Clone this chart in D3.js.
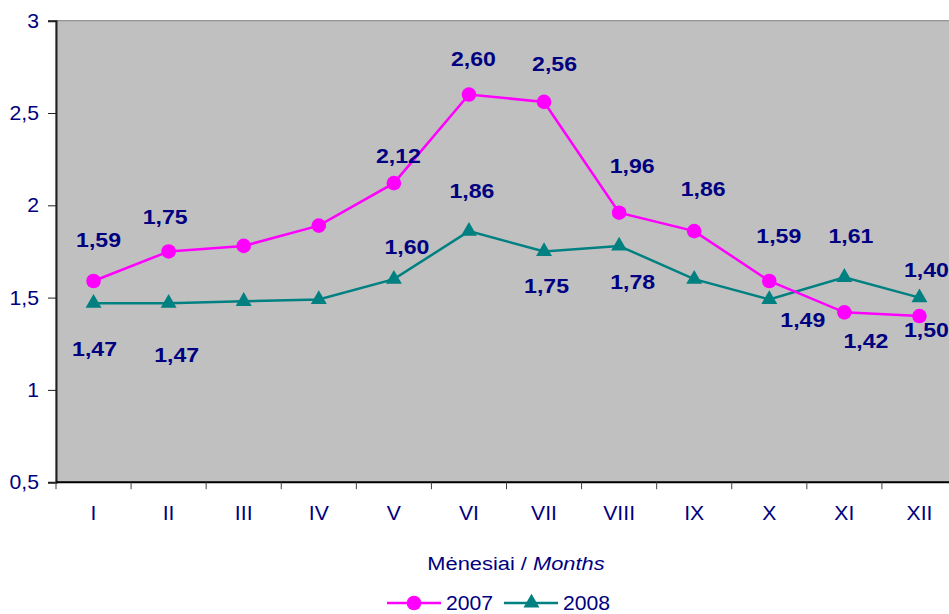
<!DOCTYPE html>
<html>
<head>
<meta charset="utf-8">
<script src="https://cdn.jsdelivr.net/npm/d3@7"></script>
<style>
  body { margin: 0; background: #fff; }
  svg { display: block; font-family: Arial, "Liberation Sans", sans-serif; }
</style>
</head>
<body>
<div id="chart"></div>
<script>
// chart data
const months = ["I", "II", "III", "IV", "V", "VI", "VII", "VIII", "IX", "X", "XI", "XII"];
const values2007 = [1.59, 1.75, 1.78, 1.89, 2.12, 2.6, 2.56, 1.96, 1.86, 1.59, 1.42, 1.4];
const values2008 = [1.47, 1.47, 1.48, 1.49, 1.6, 1.86, 1.75, 1.78, 1.6, 1.49, 1.61, 1.5];
const yTicks = [0.5, 1, 1.5, 2, 2.5, 3];
const seriesNames = ["2007", "2008"];

// which data labels are shown and where they sit relative to the point (px)
const labelPlace2007 = {
  I: [5, -41], II: [-3.5, -35], V: [4.5, -27.5], VI: [4.5, -35.5], VII: [10.5, -38],
  VIII: [13, -47.5], IX: [9, -42], X: [9.5, -45], XI: [21.5, 28], XII: [7, -46]
};
const labelPlace2008 = {
  I: [1, 46], II: [8, 52], V: [13, -32.5], VI: [3, -40.5], VII: [2.5, 34.5],
  VIII: [13.5, 36], X: [33.5, 20.5], XI: [6.5, -42], XII: [7, 32.5]
};

const W = 949, H = 614;
const plot = { left: 56, right: 957, top: 20.7, bottom: 482.2 };
const navy = "#000080";
const pink = "#ff00ff";
const teal = "#008080";

const svg = d3.select("#chart").append("svg").attr("width", W).attr("height", H);

const x = d3.scaleBand().domain(months).range([plot.left, plot.right]);
const y = d3.scaleLinear().domain([0.5, 3]).range([plot.bottom, plot.top]);
const cx = (m) => x(m) + x.bandwidth() / 2;
const fmt = (v) => d3.format(".2f")(v).replace(".", ",");

// the original text is drawn a bit wider than Arial, stretch it horizontally
function widen(sel, k) {
  sel.each(function () {
    const t = d3.select(this);
    const tx = +t.attr("x") || 0;
    const ty = +t.attr("y") || 0;
    t.attr("transform", `translate(${tx},${ty}) scale(${k},1) translate(${-tx},${-ty})`);
  });
}

// plot area
svg.append("rect")
  .attr("x", plot.left).attr("y", plot.top)
  .attr("width", plot.right - plot.left).attr("height", plot.bottom - plot.top)
  .attr("fill", "#c0c0c0").attr("stroke", "#808080").attr("stroke-width", 1);

// y axis
const yAxis = d3.axisLeft(y).tickValues(yTicks).tickSize(8).tickPadding(9)
  .tickFormat((d) => String(d).replace(".", ","));
const gy = svg.append("g").attr("transform", `translate(${plot.left},0)`).call(yAxis);
gy.select(".domain").attr("stroke", "#202020").attr("stroke-width", 2);
gy.selectAll(".tick line").attr("stroke", "#202020");
gy.selectAll(".tick text").attr("fill", navy).style("font-size", "20px")
  .call(widen, 1.06);

// x axis (ticks on band edges)
const gx = svg.append("g").attr("transform", `translate(0,${plot.bottom})`);
gx.append("line")
  .attr("x1", plot.left).attr("x2", plot.right)
  .attr("stroke", "#000").attr("stroke-width", 2);
gx.selectAll(".tk").data(months).join("line")
  .attr("class", "tk")
  .attr("x1", (d) => x(d)).attr("x2", (d) => x(d))
  .attr("y1", 0).attr("y2", 7)
  .attr("stroke", "#404040");
gx.selectAll(".lbl").data(months).join("text")
  .attr("class", "lbl")
  .attr("x", cx).attr("y", 31)
  .attr("dy", "0.35em")
  .attr("text-anchor", "middle")
  .attr("fill", navy).style("font-size", "20px")
  .text((d) => d)
  .call(widen, 1.06);

// axis title
const title = svg.append("text")
  .attr("x", 516).attr("y", 563).attr("dy", "0.35em")
  .attr("text-anchor", "middle").attr("fill", navy).style("font-size", "19px");
title.append("tspan").text("Mėnesiai / ");
title.append("tspan").style("font-style", "italic").text("Months");
widen(title, 1.15);

// lines
const line = d3.line().x((d, i) => cx(months[i])).y((d) => y(d));

svg.append("path").datum(values2008)
  .attr("fill", "none").attr("stroke", teal).attr("stroke-width", 2.5).attr("d", line);
svg.append("path").datum(values2007)
  .attr("fill", "none").attr("stroke", pink).attr("stroke-width", 2.5).attr("d", line);

const tri = d3.symbol().type(d3.symbolTriangle).size(110);

svg.selectAll(".m2008").data(values2008).join("path")
  .attr("class", "m2008")
  .attr("transform", (d, i) => `translate(${cx(months[i])},${y(d)})`)
  .attr("d", tri).attr("fill", teal);

svg.selectAll(".m2007").data(values2007).join("circle")
  .attr("class", "m2007")
  .attr("cx", (d, i) => cx(months[i])).attr("cy", (d) => y(d))
  .attr("r", 7.3).attr("fill", pink);

// data labels
function addLabels(values, place) {
  svg.append("g").selectAll("text")
    .data(months.filter((m) => place[m]))
    .join("text")
    .attr("x", (m) => cx(m) + place[m][0])
    .attr("y", (m) => y(values[months.indexOf(m)]) + place[m][1])
    .attr("dy", "0.35em")
    .attr("text-anchor", "middle")
    .attr("fill", navy)
    .style("font-size", "21px").style("font-weight", "bold")
    .text((m) => fmt(values[months.indexOf(m)]))
    .call(widen, 1.1);
}
addLabels(values2007, labelPlace2007);
addLabels(values2008, labelPlace2008);

// legend
const legend = svg.append("g").attr("transform", "translate(0,603)");
const items = [
  { name: seriesNames[0], color: pink, x0: 387 },
  { name: seriesNames[1], color: teal, x0: 504 }
];
items.forEach((it, i) => {
  legend.append("line")
    .attr("x1", it.x0).attr("x2", it.x0 + 54)
    .attr("stroke", it.color).attr("stroke-width", 2.5);
  if (i === 0) {
    legend.append("circle").attr("cx", it.x0 + 27).attr("r", 7.3).attr("fill", it.color);
  } else {
    legend.append("path").attr("transform", `translate(${it.x0 + 27.5},0)`)
      .attr("d", tri).attr("fill", it.color);
  }
  legend.append("text")
    .attr("x", it.x0 + 59).attr("dy", "0.35em")
    .attr("fill", navy).style("font-size", "20px")
    .text(it.name)
    .call(widen, 1.06);
});
</script>
</body>
</html>
